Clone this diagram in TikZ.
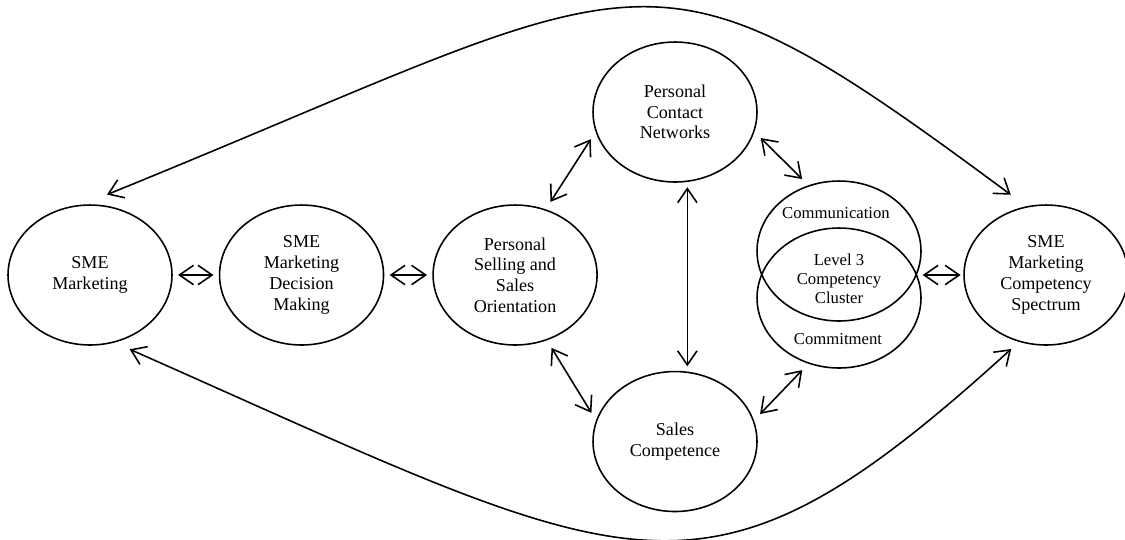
\documentclass[tikz,border=0pt]{standalone}
\usepackage{fontspec}
\setmainfont{Liberation Serif}
\usetikzlibrary{positioning,shapes.geometric,arrows.meta}

\tikzset{
  bubble/.style={draw, ellipse, line width=0.9pt, minimum width=3.28cm, minimum height=2.8cm, inner sep=1pt, align=center},
  twoway/.style={line width=0.9pt, {Straight Barb[length=8pt,width=11pt]}-{Straight Barb[length=8pt,width=11pt]}, shorten <=5pt, shorten >=5pt},
  near/.style={shorten <=3pt, shorten >=3pt},
  small/.style={font=\fontsize{9.5}{10.8}\selectfont}
}

\begin{document}
\begin{tikzpicture}[x=0.02cm, y=-0.02cm, node distance=0.92cm, font=\fontsize{10.3}{11.8}\selectfont]
\useasboundingbox (0,0) rectangle (1125,539);

% Left row
\node [bubble] (mkt) at (90,275) {SME\\Marketing};
\node [bubble] [right=of mkt] (decision) {SME\\Marketing\\Decision\\Making};
\node [bubble] [right=0.96cm of decision] (selling) {Personal\\Selling and\\Sales\\Orientation};

% Networks and competence
\node [bubble] (contact) at (675,112) {Personal\\Contact\\Networks};
\node [bubble] [below=3.76cm of contact] (sales) {Sales\\Competence};

% Competency cluster
\node [bubble] (comm) at (839,251) {};
\node [bubble] (commit) at (839,298) {};
\node [small] (commtext) at (836,213) {Communication};
\node [small, align=center] (cluster) at (839,279) {Level 3\\Competency\\Cluster};
\node [small] (committext) at (838,339) {Commitment};

% Spectrum
\node [bubble] (spectrum) at (1046,275) {SME\\Marketing\\Competency\\Spectrum};

% Row connections
\draw [twoway, near] (mkt) -- (decision);
\draw [twoway, near] (decision) -- (selling);
\draw [twoway, shorten <=0.5pt, shorten >=1.5pt] (comm.east |- spectrum.west) -- (spectrum);

% Diamond connections
\draw [twoway] (selling.65) -- (contact.194);
\draw [twoway] (selling.-64) -- (sales.165);
\draw [twoway] (contact.-14) -- (comm.115);
\draw [twoway] (commit.-115) -- (sales.15);
\draw [twoway, near] (contact.-80) -- (sales.80);

% Outer loops
\draw [twoway, shorten <=15pt, shorten >=11pt] (mkt.96) .. controls (660,-30) and (640,-80) .. (spectrum.106);
\draw [twoway, shorten <=9.4pt, shorten >=6pt] (mkt.-70) .. controls (640,575) and (700,632) .. (spectrum.-112);
\end{tikzpicture}
\end{document}
